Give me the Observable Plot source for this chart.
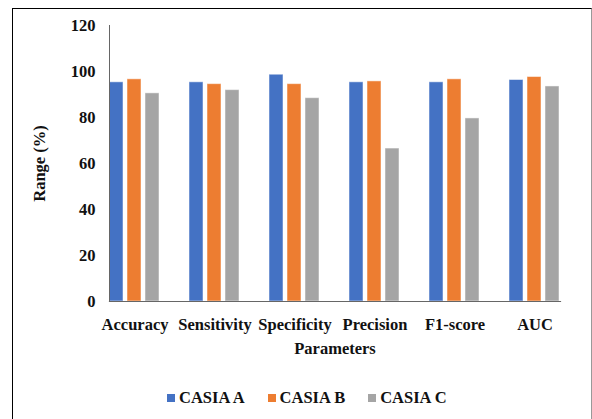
<!DOCTYPE html>
<html>
<head>
<meta charset="utf-8">
<script src="https://cdn.jsdelivr.net/npm/d3@7"></script>
<script src="https://cdn.jsdelivr.net/npm/@observablehq/plot@0.6"></script>
<style>
  html, body { margin: 0; padding: 0; background: #fff; }
  #wrap { position: relative; width: 592px; height: 419px; overflow: hidden; background: #fff; }
  #border { position: absolute; left: 12px; top: 8px; width: 578px; height: 430px;
    border-left: 1px solid #000; border-top: 1px solid #000; border-right: 1px solid #999; }
  #chart { position: absolute; left: 0; top: 0; }
  #legend { position: absolute; left: 167px; top: 388px; display: flex; align-items: center;
    font-family: "Liberation Serif", "Times New Roman", serif; font-weight: bold; font-size: 16.5px; color: #111; }
  .item { display: flex; align-items: center; margin-right: 23px; }
  .sw { width: 8px; height: 8px; margin-right: 4px; }
</style>
</head>
<body>
<div id="wrap">
  <div id="border"></div>
  <div id="chart"></div>
  <div id="legend"></div>
</div>
<script>
const categories = ["Accuracy", "Sensitivity", "Specificity", "Precision", "F1-score", "AUC"];
const seriesNames = ["CASIA A", "CASIA B", "CASIA C"];
const casiaA = [95.3, 95.3, 98.6, 95.3, 95.3, 96.3];
const casiaB = [96.6, 94.5, 94.5, 95.7, 96.6, 97.6];
const casiaC = [90.5, 91.9, 88.4, 66.5, 79.6, 93.5];
const yTicks = [0, 20, 40, 60, 80, 100, 120];
const colors = ["#4472C4", "#ED7D31", "#A5A5A5"];

const seriesValues = [casiaA, casiaB, casiaC];
const data = [];
categories.forEach((c, i) => {
  seriesNames.forEach((s, j) => data.push({category: c, series: s, value: seriesValues[j][i]}));
});

const chart = Plot.plot({
  width: 592,
  height: 365,
  marginLeft: 93,
  marginRight: 15,
  marginTop: 25,
  marginBottom: 64,
  style: {fontFamily: "'Liberation Serif', 'Times New Roman', serif", fontSize: "16.5px", fontWeight: "bold", color: "#111", background: "transparent"},
  fx: {domain: categories, paddingInner: 0.36, paddingOuter: 0.18},
  x: {domain: seriesNames, paddingInner: 0.2, paddingOuter: 0, axis: null},
  y: {domain: [0, 120], ticks: yTicks},
  color: {domain: seriesNames, range: colors},
  marks: [
    Plot.barY(data, {fx: "category", x: "series", y: "value", fill: "series", stroke: "#ffffff", strokeOpacity: 0.5, strokeWidth: 1}),
    Plot.axisFx({anchor: "bottom", tickSize: 0, tickPadding: 17, label: "Parameters", labelAnchor: "center", labelOffset: 52, labelArrow: "none"}),
    Plot.axisY({ticks: yTicks, tickSize: 0, tickPadding: 14, label: "Range (%)", labelAnchor: "center", labelOffset: 76, labelArrow: "none"}),
    Plot.frame({facet: "super", anchor: "bottom", stroke: "#666", strokeWidth: 1.2}),
    Plot.frame({facet: "super", anchor: "left", stroke: "#666", strokeWidth: 1})
  ]
});
document.getElementById("chart").appendChild(chart);

const legend = document.getElementById("legend");
seriesNames.forEach((s, i) => {
  const item = document.createElement("div");
  item.className = "item";
  const sw = document.createElement("div");
  sw.className = "sw";
  sw.style.background = colors[i];
  const t = document.createElement("span");
  t.textContent = s;
  item.appendChild(sw);
  item.appendChild(t);
  legend.appendChild(item);
});
</script>
</body>
</html>
